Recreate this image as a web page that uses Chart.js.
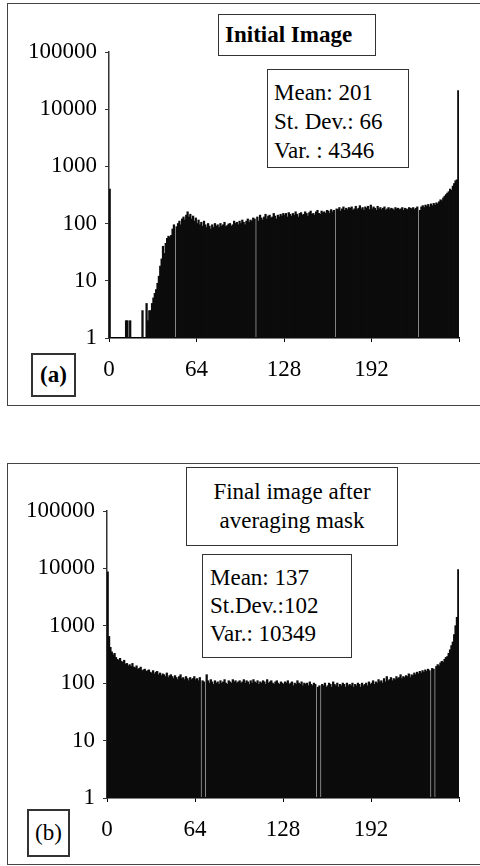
<!DOCTYPE html>
<html>
<head>
<meta charset="utf-8">
<script src="https://cdn.jsdelivr.net/npm/chart.js@4/dist/chart.umd.min.js"></script>
<style>
  html, body { margin: 0; padding: 0; background: #fff; }
  body { width: 480px; height: 866px; position: relative; overflow: hidden;
         font-family: 'Liberation Serif', 'Times New Roman', serif; color: #000; }
  .frame { position: absolute; border: 1.5px solid #444; border-right: none; }
  .box { position: absolute; border: 1px solid #333; background: #fff; box-sizing: border-box;
         font-size: 23px; line-height: 29px; z-index: 2; }
  canvas { position: absolute; left: 0; }
</style>
</head>
<body>

<div class="frame" style="left:7px; top:3px; width:480px; height:401px;"></div>
<div class="frame" style="left:7px; top:463px; width:480px; height:400px;"></div>

<canvas id="chartA" width="480" height="420" style="top:0;"></canvas>
<canvas id="chartB" width="480" height="426" style="top:440px;"></canvas>

<div class="box" style="left:218px; top:14px; width:158px; height:42px; padding:5px 0 0 6px; font-weight:bold;">Initial Image</div>
<div class="box" style="left:267px; top:69px; width:142px; height:99px; padding:8px 0 0 6px;">Mean: 201<br>St. Dev.: 66<br>Var. : 4346</div>
<div class="box" style="left:31px; top:353px; width:45px; height:44px; border-width:2px; font-weight:bold; text-align:center; line-height:40px;">(a)</div>

<div class="box" style="left:186px; top:467px; width:212px; height:79px; padding:9px 0 0 0; text-align:center;">Final image after<br>averaging mask</div>
<div class="box" style="left:202px; top:554px; width:150px; height:104px; padding:9px 0 0 7px; line-height:28px;">Mean: 137<br>St.Dev.:102<br>Var.: 10349</div>
<div class="box" style="left:27px; top:809px; width:43px; height:48px; border-width:2px; text-align:center; line-height:44px;">(b)</div>

<script>
// grey levels 0..255
const levels = Array.from({ length: 256 }, (_, i) => i);

// ── histogram counts (null = empty bin) ───────────────────────────────────────
const initialCounts = [
  400, null, null, null, null, null, null, null, null, null, null, null, 2, 2, null, 2,
  null, null, null, null, null, null, null, null, 3, null, null, 4, 2, 3, 3, 4,
  5, 6, 7, 9, 12, 18, 24, 40, 30, 45, 55, 60, 58, 62, 80, 95,
  null, 88, 100, 110, 95, 120, 130, 115, 140, 160, 130, 145, 120, 135, 110, 125,
  100, 115, 95, 105, 90, 110, 95, 85, 100, 90, 80, 95, 85, 100, 90, 95,
  85, 100, 90, 95, 105, 88, 92, 98, 100, 90, 95, 110, 100, 105, 95, 110,
  100, 115, 105, 95, 110, 120, 105, 115, 110, 125, 120, null, 130, 110, 140, 125,
  115, 130, 145, 120, 135, 140, 125, 130, 150, 135, 120, 140, 130, 145, 135, 150,
  140, 150, 130, 155, 145, 135, 150, 140, 160, 145, 130, 150, 155, 140, 145, 160,
  150, 135, 155, 165, 145, 150, 140, 160, 170, 150, 145, 165, 155, 160, 150, 170,
  165, 150, 175, 160, 170, null, 180, 175, 190, 165, 180, 195, 170, 185, 175, 190,
  185, 195, 170, 180, 200, 175, 185, 205, 180, 190, 170, 195, 185, 200, 175, 210,
  180, 195, 185, 170, 200, 180, 190, 175, 185, 195, 170, 180, 190, 175, 185, 180,
  170, 190, 180, 185, 175, 180, 190, 170, 185, 180, 175, 190, 185, 180, 190, 175,
  185, 195, null, 170, 195, 205, 190, 210, 200, 215, 195, 220, 205, 225, 210, 230,
  220, 240, 260, 250, 280, 300, 320, 340, 360, 400, 380, 450, 500, 560, 580, 21000
];

const finalCounts = [
  8700, 650, 420, 350, 310, 330, 280, 260, 250, 270, 240, 230, 250, 215, 220, 200,
  210, 195, 220, 190, 185, 200, 175, 180, 190, 165, 170, 175, 160, 165, 170, 155,
  150, 165, 145, 155, 160, 140, 150, 135, 145, 140, 130, 150, 125, 135, 140, 130,
  120, 135, 125, 115, 130, 140, 120, 125, 115, 130, 120, 110, 125, 115, 120, 130,
  115, 120, 110, 125, null, 110, 105, null, 140, 110, 100, 115, 105, 95, 110, 100,
  105, 95, 110, 100, 105, 115, 100, 95, 110, 105, 100, 115, 105, 110, 100, 105,
  110, 100, 105, 115, 100, 110, 105, 95, 110, 100, 115, 105, 100, 110, 95, 105,
  100, 110, 105, 95, 115, 100, 105, 110, 100, 95, 105, 110, 100, 95, 105, 100,
  95, 105, 100, 110, 95, 100, 105, 90, 100, 95, 110, 100, 95, 105, 90, 100,
  95, 100, 90, 105, 95, 90, 100, 95, null, 85, 90, null, 95, 90, 100, 85,
  90, 100, 95, 85, 105, 95, 90, 100, 85, 95, 90, 100, 95, 85, 100, 90,
  95, 90, 100, 85, 95, 90, 100, 95, 85, 100, 90, 95, 100, 90, 105, 95,
  100, 110, 95, 105, 100, 115, 105, 110, 100, 120, 105, 130, 110, 115, 125, 110,
  120, 115, 130, 120, 125, 140, 120, 130, 125, 135, 130, 145, 125, 140, 135, 150,
  140, 155, 145, 160, 150, 165, 155, 170, 160, 175, 165, null, 180, 175, null, 195,
  210, 200, 225, 240, 230, 260, 280, 290, 330, 380, 450, 520, 700, 1000, 1400, 9500
];

const yTicks = [1, 10, 100, 1000, 10000, 100000];
const xTicks = [0, 64, 128, 192, 256];

const serif = "'Liberation Serif', 'Times New Roman', serif";

function histogram(canvasId, counts, geo) {
    const ctx = document.getElementById(canvasId).getContext('2d');
    return new Chart(ctx, {
        type: 'bar',
        data: {
            labels: levels,
            datasets: [{
                data: counts,
                backgroundColor: '#0c0c0c',
                borderWidth: 0,
                barPercentage: 1,
                categoryPercentage: 1,
                inflateAmount: 0.45
            }]
        },
        options: {
            responsive: false,
            animation: false,
            layout: { padding: { top: geo.top, right: geo.right, left: 0, bottom: 0 } },
            plugins: { legend: { display: false }, tooltip: { enabled: false } },
            scales: {
                x: { display: false },
                // separate linear axis so ticks sit on bin edges 0, 64, 128...
                x2: {
                    type: 'linear', position: 'bottom', min: 0, max: 256,
                    offset: false,
                    afterBuildTicks: s => { s.ticks = xTicks.map(v => ({ value: v })); },
                    afterFit: s => { s.height = geo.xHeight; },
                    ticks: {
                        color: '#000', padding: 14, maxRotation: 0,
                        font: { family: serif, size: 23 },
                        callback: v => (v === 256 ? '' : v)
                    },
                    grid: { offset: false, drawOnChartArea: false, color: '#000', tickLength: 4, lineWidth: 1 },
                    border: { display: true, color: '#000', width: 1.5 }
                },
                y: {
                    type: 'logarithmic', min: 1, max: 100000,
                    afterBuildTicks: s => { s.ticks = yTicks.map(v => ({ value: v })); },
                    afterFit: s => { s.width = geo.yWidth; },
                    ticks: {
                        color: '#000', padding: 8,
                        font: { family: serif, size: 23 },
                        callback: v => String(v)
                    },
                    grid: { drawOnChartArea: false, color: '#333', tickLength: 4, lineWidth: 1 },
                    border: { display: true, color: '#333', width: 1.5, dash: [1.5, 5] }
                }
            }
        }
    });
}

histogram('chartA', initialCounts, { top: 52, right: 21, yWidth: 109, xHeight: 82 });
histogram('chartB', finalCounts, { top: 71, right: 21, yWidth: 107, xHeight: 68 });
</script>
</body>
</html>
